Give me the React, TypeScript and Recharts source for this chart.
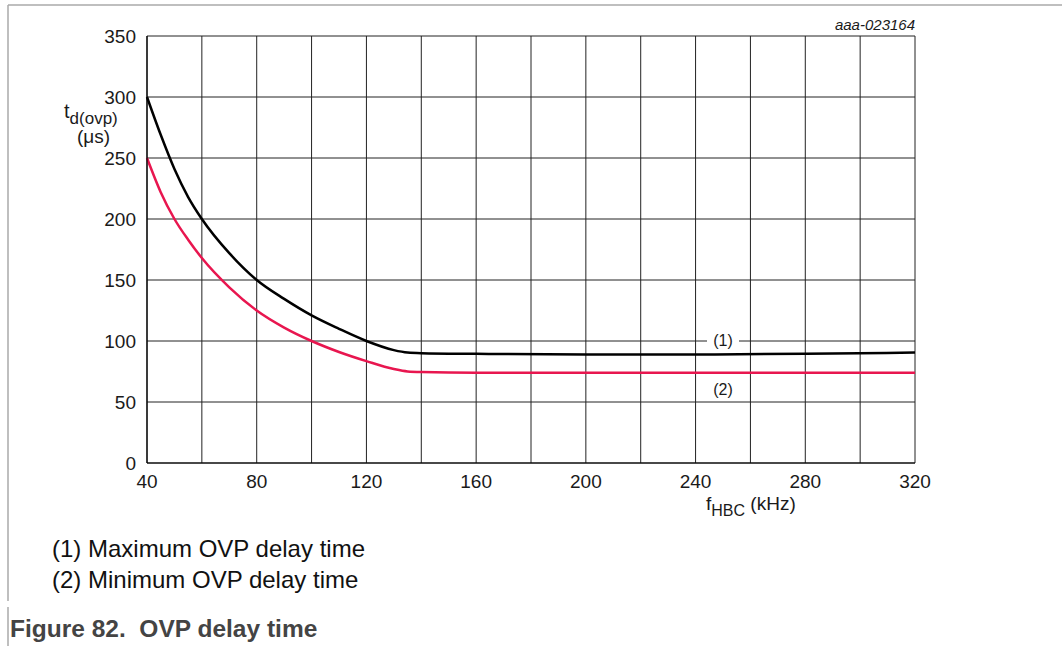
import { LineChart, Line, XAxis, YAxis, CartesianGrid, ReferenceDot } from 'recharts';

// f_HBC in kHz
const freqKHz = [40, 45, 50, 55, 60, 70, 80, 90, 100, 110, 120, 130, 135, 140, 160, 200, 240, 280, 320];
// (1) maximum OVP delay time, µs
const maxDelay = [300, 269, 241, 218, 200, 172, 150, 134.5, 121, 110, 100, 92.5, 90.5, 90, 89.5, 89, 89, 89.5, 90.5];
// (2) minimum OVP delay time, µs
const minDelay = [250, 222, 200, 183, 168, 144, 125, 111, 100, 91, 83.5, 77, 75, 74.5, 74, 74, 74, 74, 74];

const xTicks = [40, 60, 80, 100, 120, 140, 160, 180, 200, 220, 240, 260, 280, 300, 320];
const yTicks = [0, 50, 100, 150, 200, 250, 300, 350];

const data = freqKHz.map((f, i) => ({ f, max: maxDelay[i], min: minDelay[i] }));

const FONT = '"Liberation Sans", Arial, Helvetica, sans-serif';
const GRID = '#222';
const RED = '#e8164f';

const tickStyle = { fill: '#1a1a1a', fontSize: 19, fontFamily: FONT };

function CurveTag({ cx, cy, text, dy, bg }: any) {
    if (cx == null || cy == null) return null;
    return (
        <g>
            {bg && <rect x={cx - 16} y={cy - 9} width={32} height={18} fill="#fff" />}
            <text x={cx} y={cy + dy} textAnchor="middle" fontSize={16} fontFamily={FONT} fill="#1a1a1a">
                {text}
            </text>
        </g>
    );
}

export default function App() {
    return (
        <div style={{ position: 'absolute', left: 0, top: 0, width: 1062, height: 646, background: '#fff', fontFamily: FONT }}>
            <LineChart width={1062} height={646} data={data} margin={{ top: 36, right: 147, bottom: 153, left: 87 }}>
                <CartesianGrid stroke={GRID} strokeWidth={1} />
                <XAxis
                    dataKey="f"
                    type="number"
                    domain={[40, 320]}
                    ticks={xTicks}
                    interval={0}
                    height={30}
                    tickLine={false}
                    tickSize={0}
                    tickMargin={12}
                    axisLine={{ stroke: '#000', strokeWidth: 1.2 }}
                    tick={tickStyle}
                    tickFormatter={(v: number) => (v % 40 === 0 ? String(v) : '')}
                />
                <YAxis
                    type="number"
                    domain={[0, 350]}
                    ticks={yTicks}
                    interval={0}
                    width={60}
                    tickLine={false}
                    tickSize={0}
                    tickMargin={11}
                    axisLine={{ stroke: '#000', strokeWidth: 1.2 }}
                    tick={tickStyle}
                />
                <ReferenceDot x={250} y={100} r={0} shape={(p: any) => <CurveTag {...p} text="(1)" dy={5} bg />} />
                <ReferenceDot x={250} y={60} r={0} shape={(p: any) => <CurveTag {...p} text="(2)" dy={5} />} />
                <Line type="monotone" dataKey="max" stroke="#000" strokeWidth={2.5} dot={false} isAnimationActive={false} />
                <Line type="monotone" dataKey="min" stroke={RED} strokeWidth={2.5} dot={false} isAnimationActive={false} />
            </LineChart>
            <svg width={1062} height={646} style={{ position: 'absolute', left: 0, top: 0, pointerEvents: 'none' }}>
                <line x1={8} y1={5} x2={1062} y2={5} stroke="#aaa" strokeWidth={1.5} />
                <line x1={8} y1={5} x2={8} y2={601} stroke="#aaa" strokeWidth={1.5} />
                <line x1={8} y1={607} x2={8} y2={646} stroke="#aaa" strokeWidth={1.5} />
                <text x={915} y={30} textAnchor="end" fontSize={15} fontStyle="italic" fontFamily={FONT} fill="#1a1a1a">
                    aaa-023164
                </text>
                <text x={64} y={118} fontSize={20} fontFamily={FONT} fill="#1a1a1a">
                    t<tspan fontSize={17} dy={6}>d(ovp)</tspan>
                </text>
                <text x={77} y={143} fontSize={19} fontFamily={FONT} fill="#1a1a1a">
                    (μs)
                </text>
                <text x={706} y={510} fontSize={19} fontFamily={FONT} fill="#1a1a1a">
                    f<tspan fontSize={16} dy={6}>HBC</tspan>
                    <tspan dy={-6}> (kHz)</tspan>
                </text>
                <text x={52} y={557} fontSize={24} fontFamily={FONT} fill="#111">
                    (1) Maximum OVP delay time
                </text>
                <text x={52} y={588} fontSize={24} fontFamily={FONT} fill="#111">
                    (2) Minimum OVP delay time
                </text>
                <text x={10} y={637} fontSize={24.5} fontWeight="bold" fontFamily={FONT} fill="#444">
                    Figure 82.{'\u00a0\u00a0'}OVP delay time
                </text>
            </svg>
        </div>
    );
}
